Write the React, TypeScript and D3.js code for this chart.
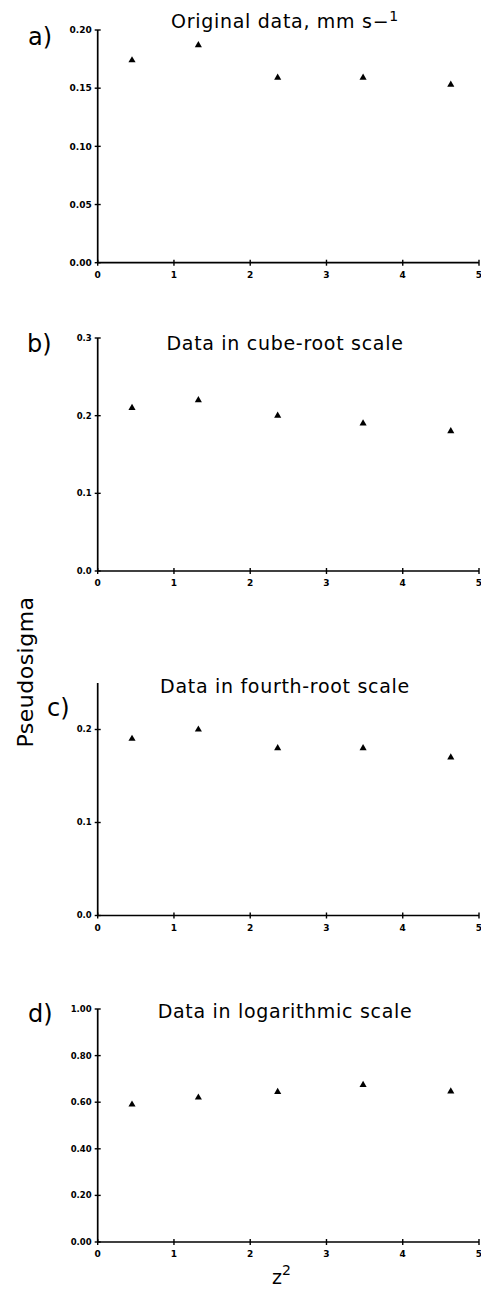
import React from "react";
import * as d3 from "d3";

// z^2 positions shared by all four panels
const zSquared = [0.45, 1.32, 2.36, 3.48, 4.63];
const originalData = [0.174, 0.187, 0.159, 0.159, 0.153];
const cubeRootData = [0.21, 0.22, 0.2, 0.19, 0.18];
const fourthRootData = [0.19, 0.2, 0.18, 0.18, 0.17];
const logData = [0.59, 0.62, 0.644, 0.674, 0.646];

const xTicks = [0, 1, 2, 3, 4, 5];
const panelLetters = ["a)", "b)", "c)", "d)"];
const panelTitles = [
  "Original data, mm s",
  "Data in cube-root scale",
  "Data in fourth-root scale",
  "Data in logarithmic scale",
];

const W = 481;
const H = 1291;
const axisX = 97.7;
const axisRight = 479;

const panels = [
  { values: originalData, domain: [0, 0.2], top: 30, bottom: 262.7, ticks: [0, 0.05, 0.1, 0.15, 0.2], fmt: ".2f", titleY: 28, letterX: 28, letterY: 45, sup: true, tickFs: 9 },
  { values: cubeRootData, domain: [0, 0.3], top: 338, bottom: 571, ticks: [0, 0.1, 0.2, 0.3], fmt: ".1f", titleY: 350, letterX: 27, letterY: 352, sup: false, tickFs: 8.5 },
  { values: fourthRootData, domain: [0, 0.25], top: 683, bottom: 915.5, ticks: [0, 0.1, 0.2], fmt: ".1f", titleY: 693, letterX: 47, letterY: 716, sup: false, tickFs: 8.5 },
  { values: logData, domain: [0, 1], top: 1009, bottom: 1242, ticks: [0, 0.2, 0.4, 0.6, 0.8, 1], fmt: ".2f", titleY: 1018, letterX: 28, letterY: 1022, sup: false, tickFs: 8.5 },
];

const x = d3.scaleLinear().domain([0, 5]).range([axisX, axisRight]);
const tri = d3.symbol().type(d3.symbolTriangle).size(22)();

const Panel = ({ p, i }: { p: any; i: number }) => {
  const y = d3.scaleLinear().domain(p.domain).range([p.bottom, p.top]);
  const f = d3.format(p.fmt);
  const font = "'DejaVu Sans', sans-serif";
  return (
    <g>
      {/* axes */}
      <line x1={axisX} x2={axisX} y1={p.top} y2={p.bottom} stroke="#000" strokeWidth={1.7} />
      <line x1={axisX} x2={axisRight} y1={p.bottom} y2={p.bottom} stroke="#000" strokeWidth={1.7} />
      {p.ticks.map((t: number) => (
        <g key={t}>
          <line x1={axisX - 3} x2={axisX + 3} y1={y(t)} y2={y(t)} stroke="#000" strokeWidth={1.4} />
          <text x={axisX - 6} y={y(t)} dy="0.35em" textAnchor="end" fontFamily={font} fontWeight="bold" fontSize={p.tickFs}>
            {f(t)}
          </text>
        </g>
      ))}
      {xTicks.map((t) => (
        <g key={t}>
          <line x1={x(t)} x2={x(t)} y1={p.bottom - 3} y2={p.bottom + 3} stroke="#000" strokeWidth={1.4} />
          <text x={x(t)} y={p.bottom + 15} textAnchor="middle" fontFamily={font} fontWeight="bold" fontSize={9}>
            {t}
          </text>
        </g>
      ))}
      {/* points */}
      {p.values.map((v: number, j: number) => (
        <path key={j} d={tri!} transform={`translate(${x(zSquared[j])},${y(v)})`} fill="#000" />
      ))}
      <text x={285} y={p.titleY} textAnchor="middle" fontFamily={font} fontSize={19} letterSpacing={0.7}>
        {panelTitles[i]}
        {p.sup && (
          <>
            <tspan>−</tspan>
            <tspan dy={-7} fontSize={14}>1</tspan>
          </>
        )}
      </text>
      <text x={p.letterX} y={p.letterY} fontFamily={font} fontSize={24}>
        {panelLetters[i]}
      </text>
    </g>
  );
};

export default function App() {
  return (
    <svg width={W} height={H} style={{ position: "absolute", left: 0, top: 0, background: "#fff" }}>
      <rect width={W} height={H} fill="#fff" />
      {panels.map((p, i) => (
        <Panel key={i} p={p} i={i} />
      ))}
      <text
        transform="translate(33,672) rotate(-90)"
        textAnchor="middle"
        fontFamily="'DejaVu Sans', sans-serif"
        fontSize={22}
        letterSpacing={0.5}
      >
        Pseudosigma
      </text>
      <text x={272} y={1284} fontFamily="'DejaVu Sans', sans-serif" fontSize={19}>
        z<tspan dy={-9} fontSize={14}>2</tspan>
      </text>
    </svg>
  );
}
